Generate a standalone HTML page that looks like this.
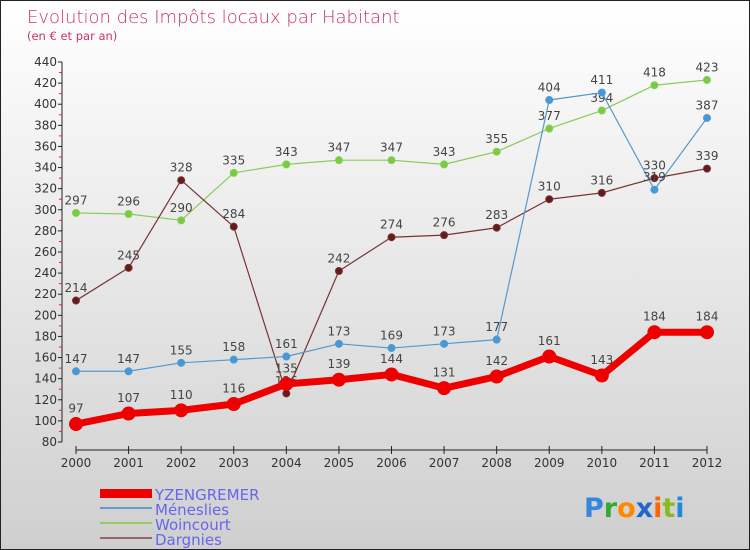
<!DOCTYPE html>
<html><head><meta charset="utf-8"><style>
body{margin:0}
#c{position:relative;width:748px;height:548px;border:1px solid #222;background:linear-gradient(#ffffff,#cfcfcf);font-family:"DejaVu Sans","Liberation Sans",sans-serif;overflow:hidden}
svg text{font-family:"DejaVu Sans","Liberation Sans",sans-serif}
</style></head><body>
<div id="c">
<svg id="s" width="748" height="548" xmlns="http://www.w3.org/2000/svg">
<text x="26" y="22" font-size="18" fill="#cc3366" font-weight="300">Evolution des Impôts locaux par Habitant</text>
<text x="26" y="39" font-size="11.5" fill="#cc3366">(en € et par an)</text>
<g id="axes"></g><g id="series"></g>
<g font-size="15" fill="#6666ee">
<rect x="99" y="488" width="52" height="9" fill="#ee0000"/>
<text x="154" y="499">YZENGREMER</text>
<rect x="99" y="506" width="52" height="2" fill="#6699cc"/>
<text x="154" y="514">Méneslies</text>
<rect x="99" y="521" width="52" height="2" fill="#99cc66"/>
<text x="154" y="529">Woincourt</text>
<rect x="99" y="536" width="52" height="2" fill="#996666"/>
<text x="154" y="544">Dargnies</text>
</g>
<g font-size="27" font-weight="bold">
<text x="583" y="516"><tspan fill="#3388dd">P</tspan><tspan fill="#33aa33">r</tspan><tspan fill="#ff8800">o</tspan><tspan fill="#2266cc">x</tspan><tspan fill="#ff6600">i</tspan><tspan fill="#88bb22">t</tspan><tspan fill="#2288dd">i</tspan></text>
</g>
</svg>
</div>
<script>
const years=[2000,2001,2002,2003,2004,2005,2006,2007,2008,2009,2010,2011,2012];
const yTicks=[80,100,120,140,160,180,200,220,240,260,280,300,320,340,360,380,400,420,440];
const yzengremer=[97,107,110,116,135,139,144,131,142,161,143,184,184];
const meneslies=[147,147,155,158,161,173,169,173,177,404,411,319,387];
const woincourt=[297,296,290,335,343,347,347,343,355,377,394,418,423];
const dargnies=[214,245,328,284,126,242,274,276,283,310,316,330,339];
const NS="http://www.w3.org/2000/svg";
function X(i){return 75+i*(706-75)/(years.length-1);}
function Y(v){return 441-(v-80)*(380/360);}
function el(t,a,p){const e=document.createElementNS(NS,t);for(const k in a)e.setAttribute(k,a[k]);p.appendChild(e);return e;}
const ax=document.getElementById('axes'),sr=document.getElementById('series');
let l=el('line',{x1:61,y1:Y(440),x2:61,y2:Y(80),stroke:'#222'},ax);


yTicks.forEach((v,i)=>{
 el('line',{x1:57,y1:Y(v),x2:61,y2:Y(v),stroke:'#222'},ax);
 if(i<yTicks.length-1)el('line',{x1:58,y1:Y(v+10),x2:61,y2:Y(v+10),stroke:'#ee2222'},ax);
 const t=el('text',{x:56,y:Y(v)+4,'font-size':12,fill:'#333','text-anchor':'end'},ax);
 
 
 t.textContent=v;
});
l=el('line',{x1:X(0),y1:449,x2:X(12),y2:449,stroke:'#222'},ax);


years.forEach((y,i)=>{
 el('line',{x1:X(i),y1:445,x2:X(i),y2:453,stroke:'#222'},ax);
 const t=el('text',{x:X(i),y:466,'font-size':12,fill:'#333','text-anchor':'middle'},ax);
 
 
 t.textContent=y;
});
function draw(name,vals,color,dot,w,r){
 const g=el('g',{},sr);
 
 
 el('polyline',{points:vals.map((v,i)=>X(i)+','+Y(v)).join(' '),fill:'none',stroke:color,'stroke-width':w,'stroke-linejoin':'round'},g);
 vals.forEach((v,i)=>{
  const c=el('circle',{cx:X(i),cy:Y(v),r:r,fill:dot,stroke:color,'stroke-width':1},g);
  
  
  const t=el('text',{x:X(i),y:Y(v)-(r+5),'font-size':12,fill:'#444','text-anchor':'middle'},g);
  
  
  t.textContent=v;
 });
}
draw('woincourt',woincourt,'#88cc55','#77cc44',1.2,3.5);
draw('dargnies',dargnies,'#773333','#661a1a',1.2,3.5);
draw('meneslies',meneslies,'#5599cc','#4499dd',1.2,3.5);
draw('yzengremer',yzengremer,'#ee0000','#ee0000',7,6.5);
</script>
</body></html>
